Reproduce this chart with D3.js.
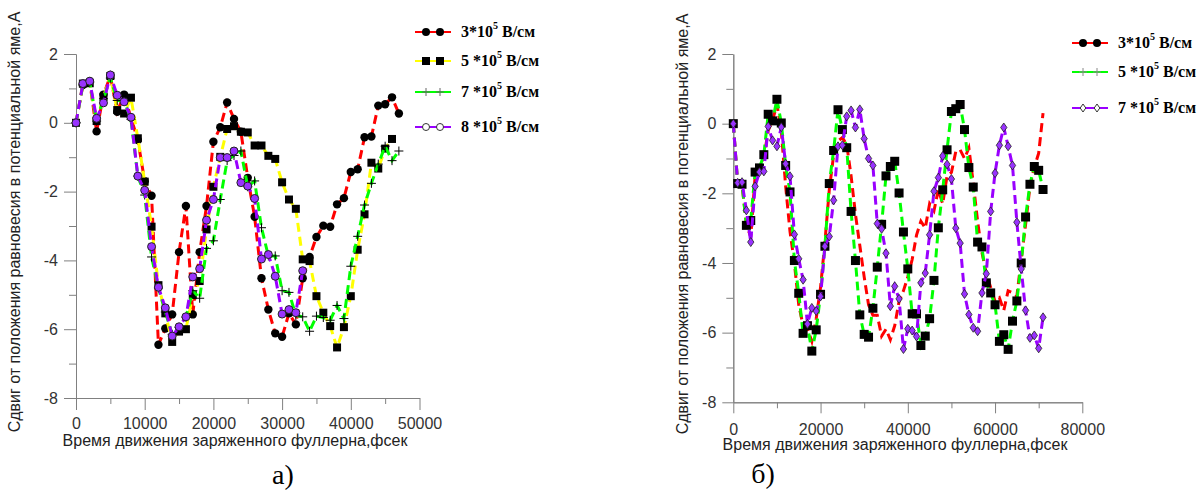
<!DOCTYPE html>
<html>
<head>
<meta charset="utf-8">
<script src="https://cdn.jsdelivr.net/npm/d3@7"></script>
<style>
  body { margin: 0; background: #fff; }
  svg { display: block; }
  .tick text { font-family: "Liberation Sans", Arial, sans-serif; font-size: 16px; fill: #333; }
  .tick line, .domain { stroke: #808080; }
</style>
</head>
<body>
<svg id="chart" width="1200" height="491"></svg>
<script>
// sampling step of both panels, fs
const step = 1000

// panel а) - shift, A
const red3L = [0, 1.1, 1.2, -0.25, 0.82, 1.36, 0.32, 0.82, 0.15, -0.5,
  -1.7, -2.12, -6.45, -5.98, -5.57, -3.76, -2.42, -5.57, -3.76, -2.42,
  -0.55, -0.13, 0.59, 0.11, -0.26, -1.6, -2.73, -4.52, -5.43, -6.12,
  -6.22, -5.54, -5.86, -4.52, -3.9, -3.32, -2.99, -3.02, -2.37, -2.19,
  -1.43, -1.35, -0.42, -0.4, 0.5, 0.54, 0.74, 0.27]
const yellow5L = [0, 1.14, 1.15, 0.05, 0.75, 1.36, 0.37, 0.27, 0.73, -0.45,
  -1.71, -3.02, -4.72, -5.54, -6.37, -6.07, -6.0, -5.01, -4.6, -3.1,
  -1.86, -0.99, -0.18, -0.1, -0.26, -0.28, -0.66, -0.66, -0.96, -1.05,
  -1.73, -2.23, -2.5, -3.97, -4.02, -5.04, -5.52, -5.91, -6.53, -5.94,
  -5.04, -3.69, -2.66, -1.16, -1.33, -0.75, -0.47]
const green7L = [0, 1.1, 1.18, 0.05, 0.7, 1.3, 0.65, 0.65, 0.1, -1.55,
  -2.1, -3.9, -4.8, -5.5, -6.15, -5.95, -5.65, -4.88, -5.1, -3.65,
  -3.43, -2.23, -1.1, -0.95, -0.82, -1.86, -1.69, -3.05, -3.87, -3.87,
  -4.88, -4.93, -5.6, -5.64, -6.06, -5.62, -5.66, -5.74, -5.31, -5.69,
  -4.17, -3.3, -2.39, -1.76, -1.2, -0.68, -1.1, -0.82]
const purple8L = [0, 1.14, 1.21, 0.13, 0.58, 1.39, 0.8, 0.61, 0.16, -1.55,
  -1.96, -3.6, -4.78, -5.38, -6.2, -5.93, -5.64, -4.48, -4.24, -2.83,
  -2.23, -1.01, -1.01, -0.82, -1.74, -1.84, -2.2, -3.96, -3.83, -4.46,
  -5.56, -5.43, -5.52, -4.3]

// panel б)
const red3R = [0, -1.72, -1.74, -2.9, -3.25, -1.5, -1.2, -1.0, -0.2, 0.1,
  0.55, -0.2, -1.8, -3.1, -4.0, -5.2, -5.8, -5.9, -6.25, -5.6,
  -4.7, -3.4, -1.9, -0.9, -0.5, -0.4, -0.6, -1.5, -2.6, -3.5,
  -4.4, -5.2, -5.5, -5.5, -6.1, -5.9, -6.2, -5.8, -5.1, -4.8,
  -4.4, -3.9, -3.2, -2.8, -3.0, -2.3, -2.5, -1.9, -2.3, -1.5,
  -1.4, -0.8, -0.75, -1.0, -0.7, -1.7, -2.8, -3.7, -4.3, -4.7,
  -5.1, -5.0, -5.36, -4.8, -4.85, -4.95, -3.9, -2.9, -1.8, -1.25,
  -0.85, 0.3]
const green5R = [0, -1.72, -1.74, -2.92, -2.78, -1.39, -1.27, -0.89, 0.27, 0.08,
  0.7, 0.02, -1.2, -1.96, -3.93, -4.87, -6.02, -5.8, -6.53, -5.92,
  -4.9, -3.52, -1.72, -0.77, 0.4, -0.17, -0.69, -2.52, -3.93, -5.49,
  -6.05, -6.13, -5.3, -4.12, -2.89, -1.5, -1.23, -1.08, -1.99, -3.11,
  -4.17, -5.46, -5.46, -6.37, -6.1, -5.6, -4.5, -2.99, -1.9, -0.75,
  0.35, 0.43, 0.55, -0.17, -1.26, -1.82, -3.4, -3.54, -4.57, -4.86,
  -5.2, -6.25, -6.06, -6.48, -5.67, -5.09, -4.0, -2.68, -1.74, -1.23,
  -1.34, -1.89]
const purple7R = [0, -1.7, -1.68, -2.49, -3.4, -1.8, -1.39, -1.37, -0.08, -0.48,
  -0.65, -0.1, -1.15, -1.51, -3.18, -3.88, -4.48, -5.75, -5.29, -5.38,
  -4.96, -3.52, -3.24, -2.2, -0.65, -0.62, 0.21, 0.38, -0.11, 0.41,
  -0.43, -1.0, -1.2, -2.87, -3.02, -3.72, -5.24, -4.67, -5.03, -6.47,
  -5.89, -5.94, -6.11, -4.57, -4.29, -3.19, -1.94, -1.55, -0.93, -1.17,
  -1.59, -3.0, -3.43, -4.89, -5.48, -5.86, -5.96, -4.86, -4.31, -2.52,
  -1.42, -0.62, -0.11, -0.65, -1.2, -2.83, -4.17, -5.36, -6.15, -6.08,
  -6.45, -5.56]

const yMajor = [-8, -6, -4, -2, 0, 2]
const yMinor = [-7, -5, -3, -1, 1]
const xMajorL = [0, 10000, 20000, 30000, 40000, 50000]
const xMinorL = [5000, 15000, 25000, 35000, 45000]
const xMajorR = [0, 20000, 40000, 60000, 80000]
const xMinorR = [10000, 30000, 50000, 70000]

const yTitle = 'Сдвиг от положения равновесия в потенциальной яме,А'
const xTitle = 'Время движения заряженного фуллерна,фсек'

const svg = d3.select('#chart')
const sans = '"Liberation Sans", Arial, sans-serif'
const serif = '"Liberation Serif", "Times New Roman", serif'
const fmt = d => d < 0 ? '-' + Math.abs(d) : String(d)

function panel(p) {
    const x = d3.scaleLinear().domain([0, p.xMax]).range([p.x0, p.x1])
    const y = d3.scaleLinear().domain([-8, 2]).range([p.y1, p.y0])
    const g = svg.append('g')

    // axes
    g.append('g').attr('transform', `translate(0,${p.y1})`)
        .call(d3.axisBottom(x).tickValues(p.xMinor).tickSize(6).tickSizeOuter(0).tickFormat(''))
    g.append('g').attr('transform', `translate(0,${p.y1})`)
        .call(d3.axisBottom(x).tickValues(p.xMajor).tickSize(p.tick).tickSizeOuter(0)
            .tickPadding(p.xPad).tickFormat(fmt))
    g.append('g').attr('transform', `translate(${p.x0},0)`)
        .call(d3.axisLeft(y).tickValues(yMinor).tickSize(7).tickSizeOuter(0).tickFormat(''))
    g.append('g').attr('transform', `translate(${p.x0},0)`)
        .call(d3.axisLeft(y).tickValues(yMajor).tickSize(p.tick).tickSizeOuter(0)
            .tickPadding(6).tickFormat(fmt))

    // titles
    g.append('text').attr('x', p.xTitleX).attr('y', p.y1 + 48)
        .attr('text-anchor', 'middle').attr('font-family', sans).attr('font-size', 16)
        .attr('fill', '#222').text(xTitle)
    g.append('text').attr('transform', `translate(${p.yTitleX},${p.yTitleY}) rotate(-90)`)
        .attr('text-anchor', 'middle').attr('font-family', sans).attr('font-size', 16)
        .attr('fill', '#222').text(yTitle)
    g.append('text').attr('x', p.capX).attr('y', p.capY)
        .attr('text-anchor', 'middle').attr('font-family', serif).attr('font-size', 28)
        .attr('fill', '#000').text(p.caption)

    const line = d3.line().x((d, i) => x(i * step)).y(d => y(d))

    p.series.forEach(s => {
        g.append('path').datum(s.values)
            .attr('d', line).attr('fill', 'none')
            .attr('stroke', s.color).attr('stroke-width', 3)
            .attr('stroke-dasharray', '9,5')
        if (s.marker) {
            g.append('g').selectAll('path').data(s.values).join('path')
                .attr('transform', (d, i) => `translate(${x(i * step)},${y(d)})`)
                .attr('d', s.marker.d)
                .attr('fill', s.marker.fill)
                .attr('stroke', s.marker.stroke)
                .attr('stroke-width', s.marker.sw)
        }
    })

    // legend
    p.series.forEach((s, i) => {
        const ly = p.legY[i]
        const lg = g.append('g').attr('transform', `translate(${p.legX},${ly})`)
        lg.append('line').attr('x1', 0).attr('x2', 36).attr('y1', 0).attr('y2', 0)
            .attr('stroke', s.color).attr('stroke-width', 2)
        ;[11, 25].forEach(mx => {
            lg.append('path').attr('transform', `translate(${mx},0)`)
                .attr('d', s.legMarker.d).attr('fill', s.legMarker.fill)
                .attr('stroke', s.legMarker.stroke).attr('stroke-width', s.legMarker.sw)
        })
        const t = lg.append('text').attr('x', 46).attr('y', 5)
            .attr('font-family', serif).attr('font-weight', 'bold').attr('font-size', 16)
        t.append('tspan').text(s.label)
        t.append('tspan').attr('font-size', 10).attr('dy', -8).text('5')
        t.append('tspan').attr('dy', 8).text(' В/см')
    })
}

const circle = r => d3.symbol(d3.symbolCircle, Math.PI * r * r)()
const square = a => `M${-a / 2},${-a / 2}h${a}v${a}h${-a}Z`
const plus = a => `M${-a / 2},0H${a / 2}M0,${-a / 2}V${a / 2}`
const diamond = a => `M0,${-a}L${a * 0.7},0L0,${a}L${-a * 0.7},0Z`

panel({
    x0: 76, x1: 419.5, y0: 54, y1: 398, xMax: 50000, tick: 12, xPad: 8,
    xMajor: xMajorL, xMinor: xMinorL,
    xTitleX: 235, yTitleX: 20, yTitleY: 222,
    capX: 283, capY: 484, caption: 'а)',
    legX: 415, legY: [32, 61, 92, 127],
    series: [
        { values: red3L, color: '#ff0000', label: '3*10',
          marker: { d: circle(4.2), fill: '#000', stroke: 'none', sw: 0 },
          legMarker: { d: circle(4), fill: '#000', stroke: 'none', sw: 0 } },
        { values: yellow5L, color: '#ffff00', label: '5 *10',
          marker: { d: square(8), fill: '#000', stroke: 'none', sw: 0 },
          legMarker: { d: square(8), fill: '#000', stroke: 'none', sw: 0 } },
        { values: green7L, color: '#00ff00', label: '7 *10',
          marker: { d: plus(9), fill: 'none', stroke: '#000', sw: 1 },
          legMarker: { d: plus(8), fill: 'none', stroke: '#666', sw: 1 } },
        { values: purple8L, color: '#9900ff', label: '8 *10',
          marker: { d: circle(4), fill: '#9933ff', stroke: '#222', sw: 1 },
          legMarker: { d: circle(3.5), fill: '#fff', stroke: '#333', sw: 1 } }
    ]
})

panel({
    x0: 733.3, x1: 1082.3, y0: 54, y1: 402.3, xMax: 80000, tick: 11, xPad: 10,
    xMajor: xMajorR, xMinor: xMinorR,
    xTitleX: 895, yTitleX: 688, yTitleY: 224,
    capX: 763, capY: 483, caption: 'б)',
    legX: 1072, legY: [43, 72, 108],
    series: [
        { values: red3R, color: '#ff0000', label: '3*10', marker: null,
          legMarker: { d: circle(4), fill: '#000', stroke: 'none', sw: 0 } },
        { values: green5R, color: '#00ff00', label: '5 *10',
          marker: { d: square(9), fill: '#000', stroke: 'none', sw: 0 },
          legMarker: { d: plus(8), fill: 'none', stroke: '#888', sw: 1 } },
        { values: purple7R, color: '#9900ff', label: '7 *10',
          marker: { d: diamond(4.5), fill: '#9933ff', stroke: '#222', sw: 0.8 },
          legMarker: { d: diamond(4), fill: '#fff', stroke: '#333', sw: 1 } }
    ]
})
</script>
</body>
</html>
